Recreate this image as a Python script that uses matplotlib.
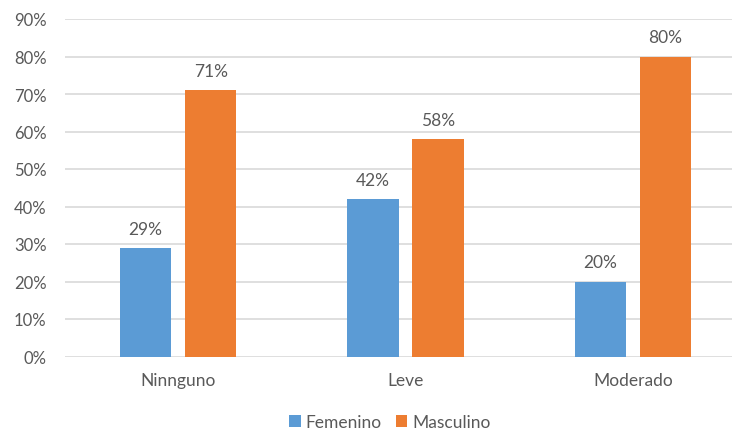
import matplotlib
matplotlib.use("Agg")
import matplotlib.pyplot as plt
import numpy as np

categories = ["Ninnguno", "Leve", "Moderado"]
femenino = [29, 42, 20]
masculino = [71, 58, 80]
yticks = [0, 10, 20, 30, 40, 50, 60, 70, 80, 90]

blue = "#5B9BD5"
orange = "#ED7D31"
text_col = "#595959"
grid_col = "#D9D9D9"

plt.rcParams["font.family"] = ["Lato", "DejaVu Sans"]

fig = plt.figure(figsize=(7.32, 4.31), dpi=100)
# the original chart is cut off on the right, so the axes run past the figure edge
ax = fig.add_axes([64.5 / 732, 73.5 / 431, 682 / 732, 337.5 / 431])

x = np.arange(len(categories))
w = 0.225
off = 0.143
b1 = ax.bar(x - off, femenino, w, color=blue, label="Femenino", zorder=3)
b2 = ax.bar(x + off, masculino, w, color=orange, label="Masculino", zorder=3)

for bars, vals in ((b1, femenino), (b2, masculino)):
    for r, v in zip(bars, vals):
        ax.annotate(f"{v}%", (r.get_x() + r.get_width() / 2, v),
                    xytext=(0, 8), textcoords="offset points",
                    ha="center", va="bottom", fontsize=12.5, color=text_col)

ax.set_xlim(-0.5, 2.5)
ax.set_ylim(0, 90)
ax.set_yticks(yticks)
ax.set_yticklabels([f"{t}%" for t in yticks])
ax.set_xticks(x)
ax.set_xticklabels(categories)
ax.tick_params(axis="both", length=0, labelsize=12, labelcolor=text_col)
ax.tick_params(axis="x", labelsize=12.5, pad=11)
ax.tick_params(axis="y", pad=13)
ax.yaxis.grid(True, color=grid_col, linewidth=1.2)
ax.set_axisbelow(True)
for s in ax.spines.values():
    s.set_visible(False)

fig.legend(handles=[b1, b2], loc="center", bbox_to_anchor=(390 / 732, 8 / 431),
           ncol=2, frameon=False, fontsize=12.5, labelcolor=text_col,
           handlelength=0.65, handleheight=0.65, handletextpad=0.3, columnspacing=0.8)

fig.savefig("out.png", dpi=100)
